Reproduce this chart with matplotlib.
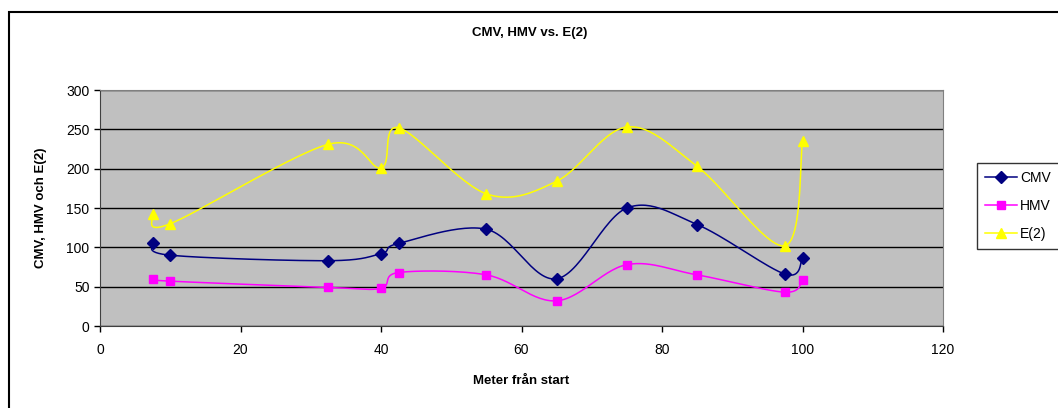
import numpy as np
import matplotlib
matplotlib.use("Agg")
import matplotlib.pyplot as plt
from matplotlib.patches import Rectangle

plt.rcParams['font.family'] = ['Liberation Sans', 'DejaVu Sans']

# Measurements along the track
meter = [7.5, 10, 32.5, 40, 42.5, 55, 65, 75, 85, 97.5, 100]
cmv = [105, 90, 83, 92, 105, 123, 60, 150, 129, 66, 86]
hmv = [60, 57, 49, 48, 68, 65, 32, 78, 65, 43, 59]
e2 = [142, 130, 231, 201, 252, 168, 184, 253, 203, 102, 235]


def smooth(xs, ys, n=30):
    # Catmull-Rom style bezier smoothing through every point
    p = np.column_stack([xs, ys]).astype(float)
    pts = np.vstack([p[0], p, p[-1]])
    out = []
    t = np.linspace(0, 1, n)[:, None]
    for i in range(1, len(pts) - 2):
        p0, p1, p2, p3 = pts[i - 1], pts[i], pts[i + 1], pts[i + 2]
        c1 = p1 + (p2 - p0) / 6
        c2 = p2 - (p3 - p1) / 6
        seg = ((1 - t) ** 3) * p1 + 3 * ((1 - t) ** 2) * t * c1 \
            + 3 * (1 - t) * t ** 2 * c2 + t ** 3 * p2
        out.append(seg if i == 1 else seg[1:])
    s = np.vstack(out)
    return s[:, 0], s[:, 1]


fig = plt.figure(figsize=(10.58, 4.08), dpi=100)
ax = fig.add_axes([100 / 1058, 1 - 326 / 408, 843 / 1058, 236 / 408])
ax.set_facecolor('#C0C0C0')

# chart area frame
fig.patches.append(Rectangle((9 / 1058, -0.1), 1.2, 1 - 12 / 408 + 0.1,
                             transform=fig.transFigure, fill=False,
                             edgecolor='black', linewidth=1.5))

series = [
    ('CMV', cmv, '#000080', 'D', 6),
    ('HMV', hmv, '#FF00FF', 's', 6),
    ('E(2)', e2, '#FFFF00', '^', 7),
]
handles = []
for name, vals, col, mk, ms in series:
    sx, sy = smooth(meter, vals)
    ax.plot(sx, sy, color=col, lw=1.1, zorder=3)
    ax.plot(meter, vals, ls='none', marker=mk, ms=ms, color=col, zorder=4)
    h, = ax.plot([], [], color=col, lw=1.1, marker=mk, ms=ms, label=name)
    handles.append(h)

ax.set_xlim(0, 120)
ax.set_ylim(0, 300)
ax.set_xticks(range(0, 121, 20))
ax.set_yticks(range(0, 301, 50))
ax.yaxis.grid(True, color='black', lw=1)
ax.set_axisbelow(True)
for s in ['top', 'right']:
    ax.spines[s].set_color('#808080')
for s in ['left', 'bottom']:
    ax.spines[s].set_color('#404040')
ax.tick_params(direction='out', length=4, labelsize=10, width=1)
ax.tick_params(axis='x', pad=8)

ax.set_xlabel('Meter från start', fontsize=9.5, fontweight='bold', labelpad=13)
ax.set_ylabel('CMV, HMV och E(2)', fontsize=9.5, fontweight='bold', labelpad=14)
fig.text(530 / 1058, 1 - 33 / 408, 'CMV, HMV vs. E(2)', ha='center', va='center',
         fontsize=9.5, fontweight='bold')

leg = fig.legend(handles=handles, loc='upper left',
                 bbox_to_anchor=(977 / 1058, 1 - 163 / 408), fontsize=10,
                 frameon=True, fancybox=False, edgecolor='black',
                 handlelength=2.3, labelspacing=1.0, borderpad=0.6,
                 handletextpad=0.2, borderaxespad=0)
leg.get_frame().set_linewidth(1)

fig.savefig('out.png', dpi=100)
